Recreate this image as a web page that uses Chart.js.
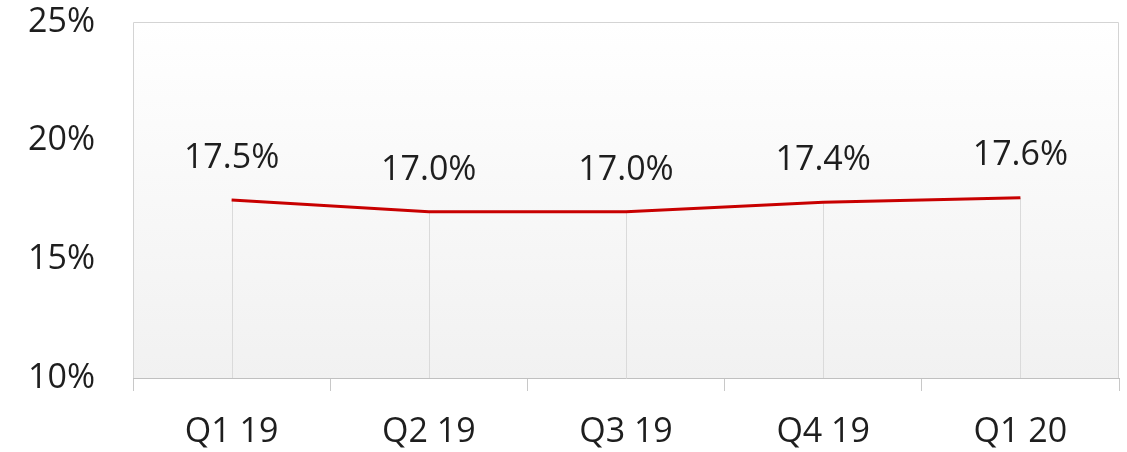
<!DOCTYPE html>
<html>
<head>
<meta charset="utf-8">
<script src="https://cdn.jsdelivr.net/npm/chart.js@4"></script>
<style>
html,body{margin:0;padding:0;background:#fff;}
#wrap{width:1127px;height:452px;}
</style>
</head>
<body>
<div id="wrap"><canvas id="c" width="1127" height="452"></canvas></div>
<script>
const categories = ["Q1 19", "Q2 19", "Q3 19", "Q4 19", "Q1 20"];
const values = [17.5, 17.0, 17.0, 17.4, 17.6];
const yTicks = [10, 15, 20, 25];

const FONT = "'Open Sans', 'Noto Sans', sans-serif";

const bgPlugin = {
  id: 'bg',
  beforeDraw(chart) {
    const {ctx, chartArea: a} = chart;
    const g = ctx.createLinearGradient(0, a.top, 0, a.bottom);
    g.addColorStop(0, '#ffffff');
    g.addColorStop(1, '#f1f1f1');
    ctx.save();
    ctx.fillStyle = g;
    ctx.fillRect(a.left, a.top, a.right - a.left, a.bottom - a.top);
    ctx.strokeStyle = '#d4d4d4';
    ctx.lineWidth = 1;
    ctx.beginPath();
    ctx.moveTo(a.left + 0.5, a.bottom);
    ctx.lineTo(a.left + 0.5, a.top + 0.5);
    ctx.lineTo(a.right - 0.5, a.top + 0.5);
    ctx.lineTo(a.right - 0.5, a.bottom);
    ctx.stroke();
    ctx.restore();
  },
  beforeDatasetsDraw(chart) {
    const {ctx, chartArea: a, scales} = chart;
    ctx.save();
    ctx.strokeStyle = '#dadada';
    ctx.lineWidth = 1;
    values.forEach((v, i) => {
      const x = Math.round(scales.x.getPixelForValue(i)) + 0.5;
      const y = scales.y.getPixelForValue(v);
      ctx.beginPath();
      ctx.moveTo(x, y);
      ctx.lineTo(x, a.bottom);
      ctx.stroke();
    });
    ctx.restore();
  },
  afterDatasetsDraw(chart) {
    const {ctx, scales} = chart;
    ctx.save();
    ctx.fillStyle = '#1e1e1e';
    ctx.font = '34px ' + FONT;
    ctx.textAlign = 'center';
    ctx.textBaseline = 'middle';
    values.forEach((v, i) => {
      const x = scales.x.getPixelForValue(i);
      const y = scales.y.getPixelForValue(v);
      ctx.fillText(v.toFixed(1) + '%', x, y - 42);
    });
    ctx.restore();
  }
};

new Chart(document.getElementById('c'), {
  type: 'line',
  data: {
    labels: categories,
    datasets: [{
      data: values,
      borderColor: '#c80000',
      borderWidth: 3,
      pointRadius: 0,
      tension: 0,
      fill: false
    }]
  },
  options: {
    responsive: false,
    animation: false,
    plugins: { legend: {display: false}, tooltip: {enabled: false} },
    layout: { padding: {top: 22, right: 8, left: 0, bottom: 0} },
    scales: {
      x: {
        offset: true,
        grid: { offset: true, drawOnChartArea: false, drawTicks: true, tickLength: 13, color: '#c8c8c8' },
        border: { display: true, color: '#c0c0c0', width: 1 },
        ticks: { color: '#1e1e1e', font: {family: FONT, size: 34}, padding: 21, maxRotation: 0 },
        afterFit(s) { s.height = 74; s.paddingLeft = 0; s.paddingRight = 0; }
      },
      y: {
        min: 10, max: 25,
        afterBuildTicks(s) { s.ticks = yTicks.map(v => ({value: v})); },
        grid: { display: false },
        border: { display: false },
        ticks: { color: '#1e1e1e', font: {family: FONT, size: 34}, padding: 30, callback: v => v + '%' },
        afterFit(s) { s.width = 133; s.paddingTop = 0; s.paddingBottom = 0; }
      }
    }
  },
  plugins: [bgPlugin]
});
</script>
</body>
</html>
